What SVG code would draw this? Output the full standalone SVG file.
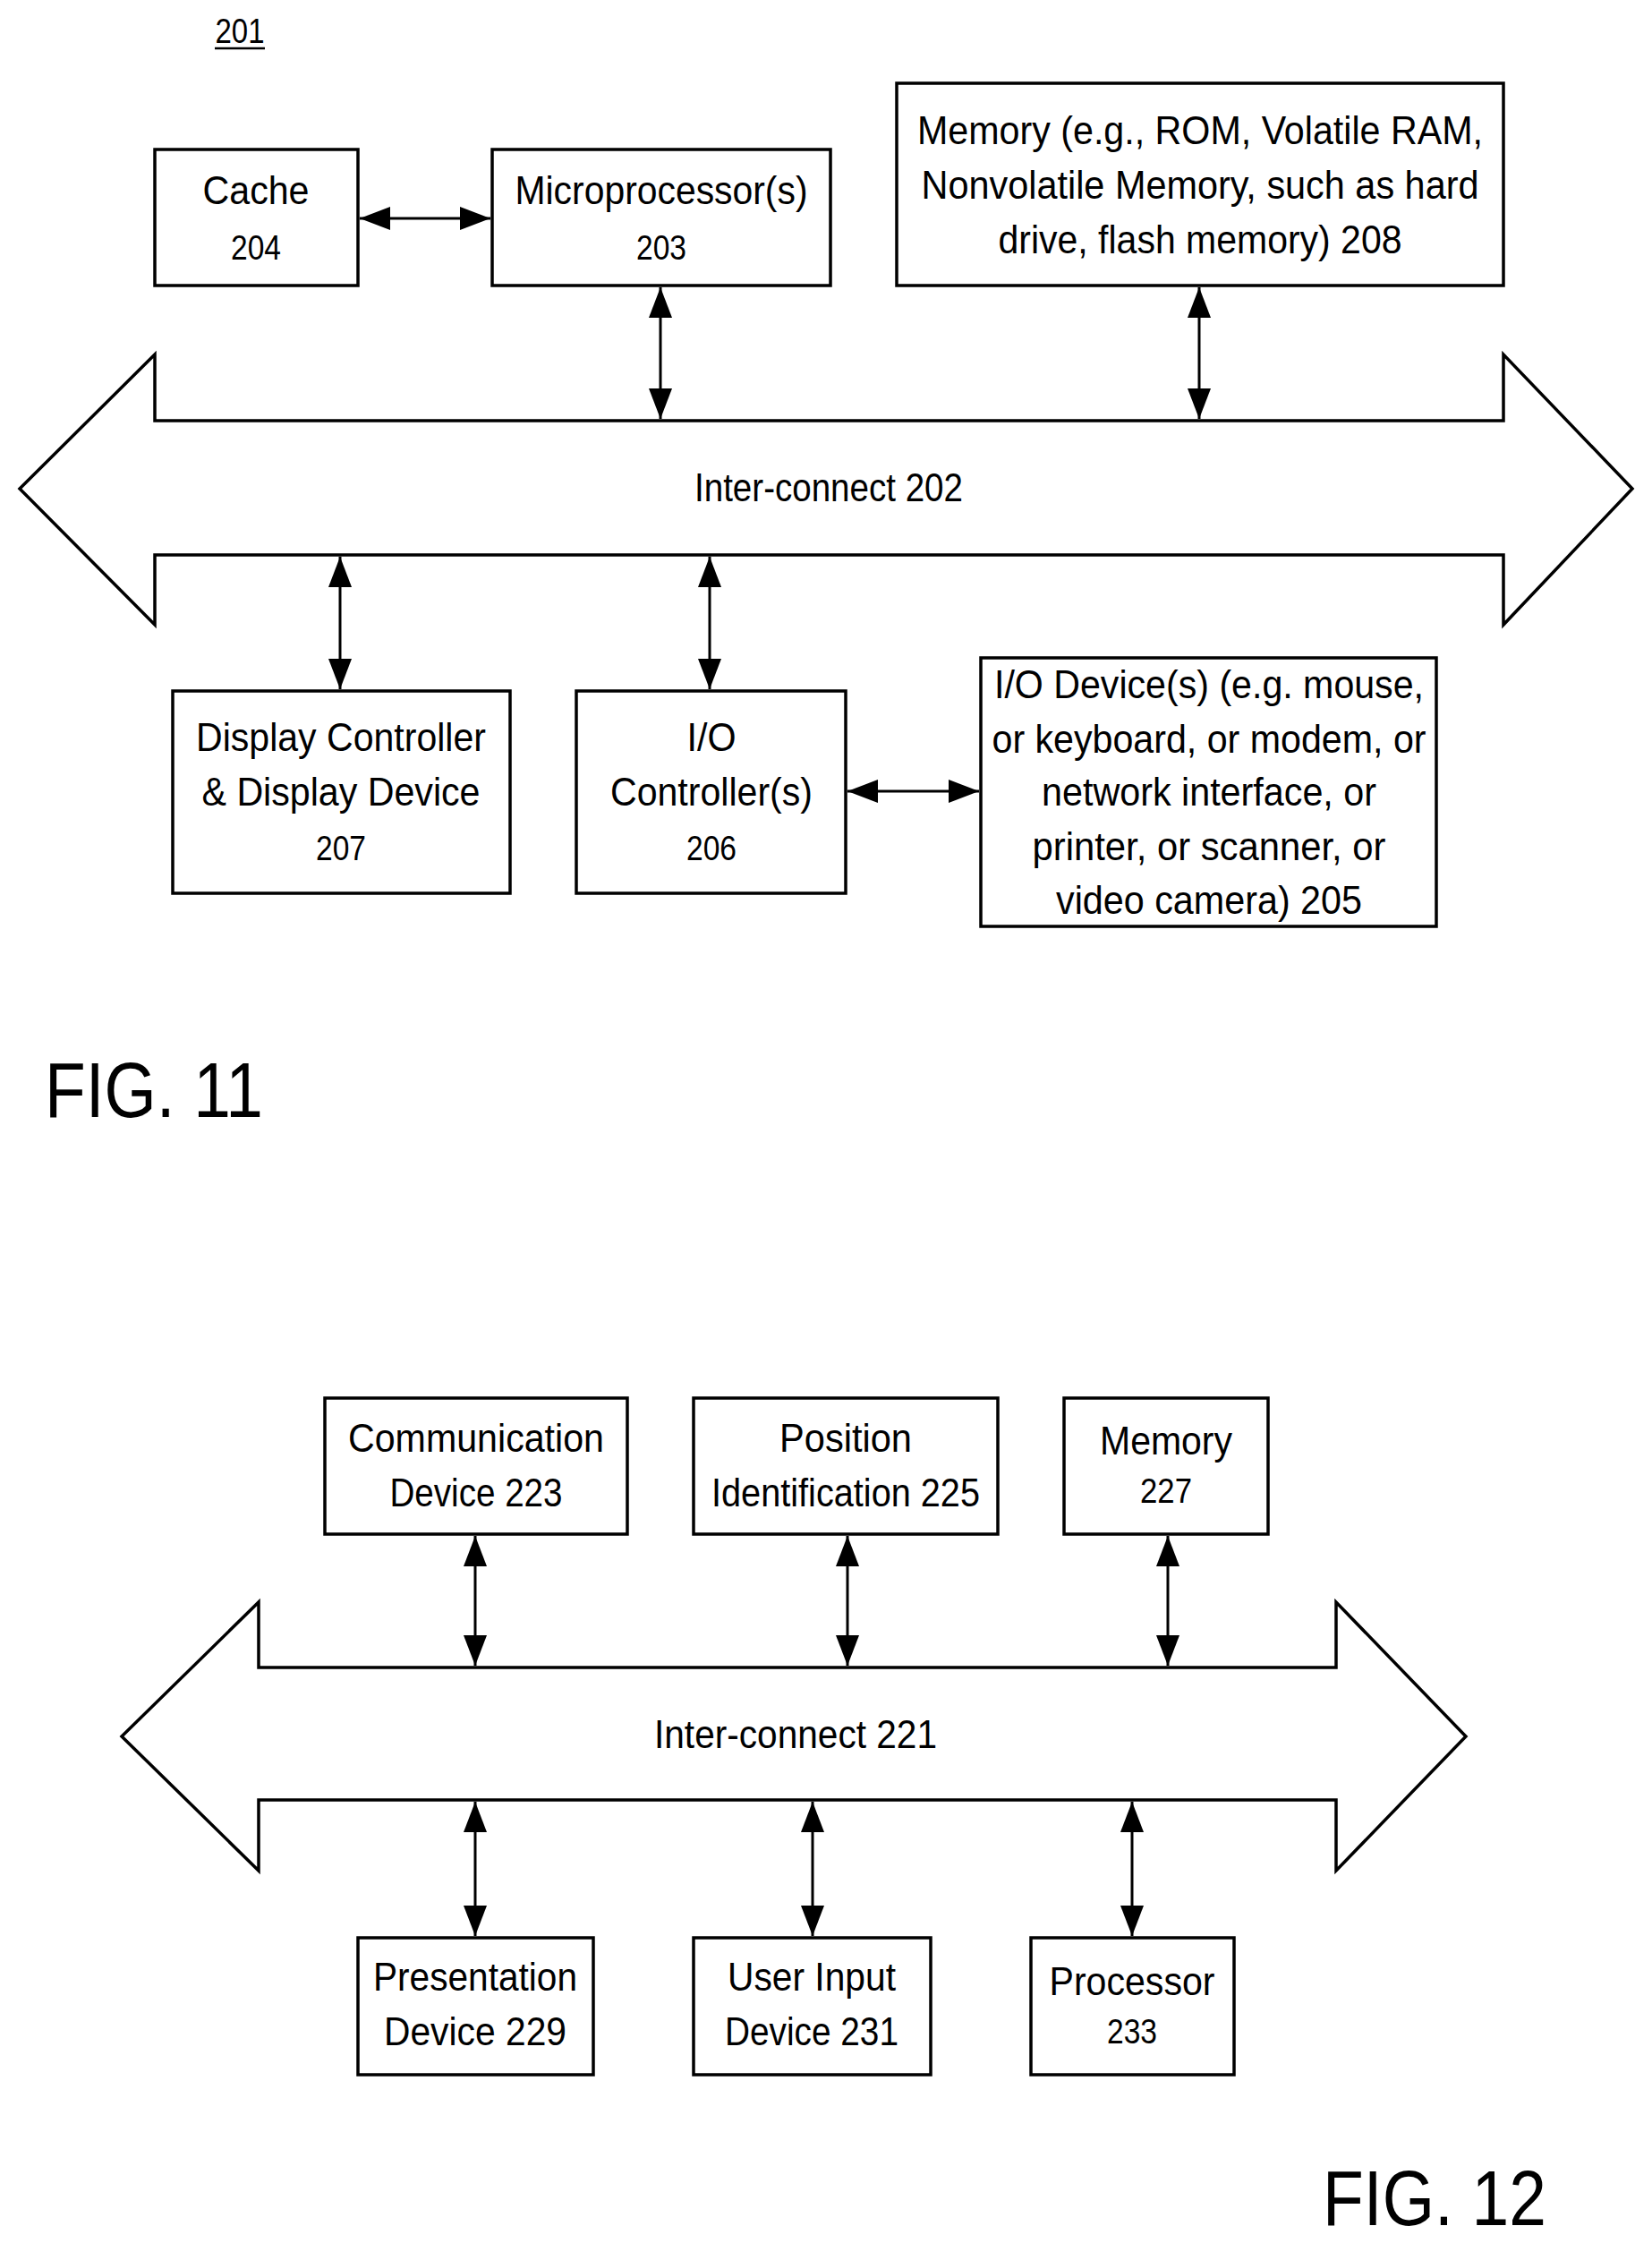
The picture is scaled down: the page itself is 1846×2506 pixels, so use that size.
<svg xmlns="http://www.w3.org/2000/svg" width="1846" height="2506" viewBox="0 0 1846 2506">
<style>
rect,.bus{fill:#fff;stroke:#000;stroke-width:3.5}
text{font-family:"Liberation Sans",Arial,sans-serif;font-size:44px;fill:#000;text-anchor:middle}
.n{font-size:38px}
.fig{font-size:88px;text-anchor:start}
.c{stroke:#000;stroke-width:3;fill:none;marker-start:url(#a);marker-end:url(#a)}
</style>
<defs>
<marker id="a" viewBox="0 0 34 26" refX="34" refY="13" markerWidth="34" markerHeight="26" markerUnits="userSpaceOnUse" orient="auto-start-reverse">
<path d="M0,0 L34,13 L0,26 Z" fill="#000"/>
</marker>
</defs>
<text class="n" x="268" y="48" textLength="55" lengthAdjust="spacingAndGlyphs">201</text>
<line x1="240" y1="54" x2="296" y2="54" stroke="#000" stroke-width="2.5"/>
<g id="bus202"><path class="bus" d="M173,470 L173,396 L22,546 L173,698 L173,620 L1680,620 L1680,698 L1824,546 L1680,396 L1680,470 Z"/>
<text x="926" y="560" textLength="300" lengthAdjust="spacingAndGlyphs">Inter-connect  202</text></g>
<g id="cache"><rect x="173" y="167" width="227" height="152"/>
<text x="286" y="228" textLength="119" lengthAdjust="spacingAndGlyphs">Cache</text>
<text class="n" x="286" y="290" textLength="56" lengthAdjust="spacingAndGlyphs">204</text></g>
<g id="micro"><rect x="550" y="167" width="378" height="152"/>
<text x="739" y="228" textLength="327" lengthAdjust="spacingAndGlyphs">Microprocessor(s)</text>
<text class="n" x="739" y="290" textLength="56" lengthAdjust="spacingAndGlyphs">203</text></g>
<g id="mem208"><rect x="1002" y="93" width="678" height="226"/>
<text x="1341" y="161" textLength="632" lengthAdjust="spacingAndGlyphs">Memory (e.g., ROM, Volatile RAM,</text>
<text x="1341" y="222" textLength="623" lengthAdjust="spacingAndGlyphs">Nonvolatile Memory, such as hard</text>
<text x="1341" y="283" textLength="451" lengthAdjust="spacingAndGlyphs">drive, flash memory)  208</text></g>
<g id="disp"><rect x="193" y="772" width="377" height="226"/>
<text x="381" y="839" textLength="324" lengthAdjust="spacingAndGlyphs">Display Controller</text>
<text x="381" y="900" textLength="311" lengthAdjust="spacingAndGlyphs">&amp; Display Device</text>
<text class="n" x="381" y="961" textLength="56" lengthAdjust="spacingAndGlyphs">207</text></g>
<g id="ioc"><rect x="644" y="772" width="301" height="226"/>
<text x="795" y="839" textLength="55" lengthAdjust="spacingAndGlyphs">I/O</text>
<text x="795" y="900" textLength="226" lengthAdjust="spacingAndGlyphs">Controller(s)</text>
<text class="n" x="795" y="961" textLength="56" lengthAdjust="spacingAndGlyphs">206</text></g>
<g id="iod"><rect x="1096" y="735" width="509" height="300"/>
<text x="1351" y="780" textLength="480" lengthAdjust="spacingAndGlyphs">I/O Device(s) (e.g. mouse,</text>
<text x="1351" y="841" textLength="485" lengthAdjust="spacingAndGlyphs">or keyboard, or modem, or</text>
<text x="1351" y="900" textLength="374" lengthAdjust="spacingAndGlyphs">network interface, or</text>
<text x="1351" y="961" textLength="395" lengthAdjust="spacingAndGlyphs">printer, or scanner, or</text>
<text x="1351" y="1021" textLength="342" lengthAdjust="spacingAndGlyphs">video camera)  205</text></g>
<text class="fig" x="50" y="1248" textLength="244" lengthAdjust="spacingAndGlyphs">FIG. 11</text>

<g id="bus221"><path class="bus" d="M289,1863 L289,1790 L136,1940 L289,2090 L289,2011 L1493,2011 L1493,2090 L1638,1940 L1493,1790 L1493,1863 Z"/>
<text x="889" y="1953" textLength="316" lengthAdjust="spacingAndGlyphs">Inter-connect  221</text></g>
<g id="comm"><rect x="363" y="1562" width="338" height="152"/>
<text x="532" y="1622" textLength="286" lengthAdjust="spacingAndGlyphs">Communication</text>
<text x="532" y="1683" textLength="193" lengthAdjust="spacingAndGlyphs">Device 223</text></g>
<g id="pos"><rect x="775" y="1562" width="340" height="152"/>
<text x="945" y="1622" textLength="148" lengthAdjust="spacingAndGlyphs">Position</text>
<text x="945" y="1683" textLength="300" lengthAdjust="spacingAndGlyphs">Identification 225</text></g>
<g id="mem227"><rect x="1189" y="1562" width="228" height="152"/>
<text x="1303" y="1625" textLength="148" lengthAdjust="spacingAndGlyphs">Memory</text>
<text class="n" x="1303" y="1679" textLength="58" lengthAdjust="spacingAndGlyphs">227</text></g>
<g id="pres"><rect x="400" y="2165" width="263" height="153"/>
<text x="531" y="2224" textLength="228" lengthAdjust="spacingAndGlyphs">Presentation</text>
<text x="531" y="2285" textLength="204" lengthAdjust="spacingAndGlyphs">Device  229</text></g>
<g id="uin"><rect x="775" y="2165" width="265" height="153"/>
<text x="907" y="2224" textLength="188" lengthAdjust="spacingAndGlyphs">User Input</text>
<text x="907" y="2285" textLength="194" lengthAdjust="spacingAndGlyphs">Device 231</text></g>
<g id="proc"><rect x="1152" y="2165" width="227" height="153"/>
<text x="1265" y="2229" textLength="185" lengthAdjust="spacingAndGlyphs">Processor</text>
<text class="n" x="1265" y="2283" textLength="56" lengthAdjust="spacingAndGlyphs">233</text></g>
<text class="fig" x="1478" y="2486" textLength="250" lengthAdjust="spacingAndGlyphs">FIG. 12</text>

<g id="connectors">
<line class="c" x1="402" y1="244" x2="548" y2="244"/>
<line class="c" x1="738" y1="321" x2="738" y2="468"/>
<line class="c" x1="1340" y1="321" x2="1340" y2="468"/>
<line class="c" x1="380" y1="622" x2="380" y2="770"/>
<line class="c" x1="793" y1="622" x2="793" y2="770"/>
<line class="c" x1="947" y1="884" x2="1094" y2="884"/>
<line class="c" x1="531" y1="1716" x2="531" y2="1861"/>
<line class="c" x1="947" y1="1716" x2="947" y2="1861"/>
<line class="c" x1="1305" y1="1716" x2="1305" y2="1861"/>
<line class="c" x1="531" y1="2013" x2="531" y2="2163"/>
<line class="c" x1="908" y1="2013" x2="908" y2="2163"/>
<line class="c" x1="1265" y1="2013" x2="1265" y2="2163"/>
</g>
</svg>
